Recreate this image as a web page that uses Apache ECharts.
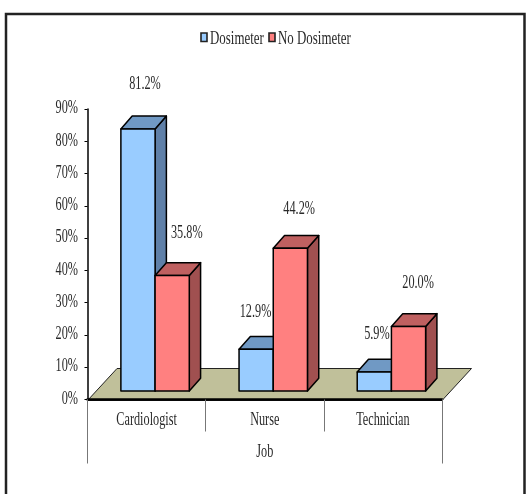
<!DOCTYPE html>
<html><head><meta charset="utf-8">
<style>html,body{margin:0;padding:0;background:#fff}#c{width:526px;height:494px}</style>
<script src="https://cdn.jsdelivr.net/npm/echarts@6/dist/echarts.min.js"></script>
</head><body><div id="c"></div>
<script>
const categories = ['Cardiologist', 'Nurse', 'Technician'];
const seriesNames = ['Dosimeter', 'No Dosimeter'];
const dosimeter = [81.2, 12.9, 5.9];
const noDosimeter = [35.8, 44.2, 20.0];
const valueTicks = [0, 10, 20, 30, 40, 50, 60, 70, 80, 90];
const axisTitle = 'Job';

// layout constants, in pixels
const INK = '#2a2a2a';
const FONT = '18px "Liberation Serif"';
const SQUEEZE = 0.68;
const DEPTH = { x: 11.3, y: -12.8 };
const BASE = { x: 8.5, y: -8.5 };
const BAR_W = 34.2;
const LABEL_NUDGE = [
  [[7, -44.4], [-0.6, -37.4], [2.6, -38]],
  [[14.6, -42.4], [8.8, -39.3], [9.6, -42.9]]
];
const FACE = ['#99CCFF', '#FF8080'];
const TOP = ['#7099C4', '#BF6060'];
const SIDE = ['#5F80A8', '#A05050'];

function squeezedText(text, x, y, align) {
  return { type: 'text', z2: 50, x, y, scaleX: SQUEEZE, silent: true,
    style: { text, fill: INK, font: FONT, align, verticalAlign: 'middle' } };
}

function barSeries(name, values, s) {
  return {
    name, type: 'custom', coordinateSystem: 'cartesian2d', z: 3 + s,
    data: values.map((v, i) => [i, v]),
    encode: { x: 0, y: 1 },
    renderItem(params, api) {
      const i = api.value(0), v = api.value(1);
      const tp = api.coord([i, v]);
      const x0 = tp[0] + BASE.x - BAR_W + s * BAR_W;
      const x1 = x0 + BAR_W;
      const yT = tp[1] + BASE.y;
      const yB = api.coord([i, 0])[1] + BASE.y;
      const d = DEPTH;
      const line = { stroke: '#000', lineWidth: 1.5, lineJoin: 'round' };
      const n = LABEL_NUDGE[s][i];
      return { type: 'group', children: [
        { type: 'polygon', shape: { points: [[x1, yT], [x1 + d.x, yT + d.y], [x1 + d.x, yB + d.y], [x1, yB]] }, style: { fill: SIDE[s], ...line } },
        { type: 'polygon', shape: { points: [[x0, yT], [x0 + d.x, yT + d.y], [x1 + d.x, yT + d.y], [x1, yT]] }, style: { fill: TOP[s], ...line } },
        { type: 'rect', shape: { x: x0, y: yT, width: BAR_W, height: yB - yT }, style: { fill: FACE[s], ...line } },
        squeezedText(v.toFixed(1) + '%', (x0 + x1) / 2 + n[0], yT + n[1], 'center')
      ] };
    }
  };
}

const floorSeries = {
  type: 'custom', coordinateSystem: 'cartesian2d', z: 1, silent: true,
  data: [[0, 0]], encode: { x: 0, y: 1 },
  renderItem(params) {
    const c = params.coordSys;
    const yF = c.y + c.height + 1, xL = c.x, xR = c.x + c.width;
    const dx = 29.5, dy = -32;
    return { type: 'polygon', shape: { points: [[xL, yF], [xL + dx, yF + dy], [xR + dx, yF + dy], [xR, yF]] },
      style: { fill: '#C0C09A', stroke: '#222', lineWidth: 1 } };
  }
};

const valueLabelSeries = {
  type: 'custom', coordinateSystem: 'cartesian2d', z: 6, silent: true,
  data: valueTicks.map(v => [0, v]), encode: { x: 0, y: 1 },
  renderItem(params, api) {
    const c = params.coordSys;
    return squeezedText(api.value(1) + '%', c.x - 9.5, api.coord([0, api.value(1)])[1] - 0.5, 'right');
  }
};

const categoryLabelSeries = {
  type: 'custom', coordinateSystem: 'cartesian2d', z: 6, silent: true,
  data: categories.map((_, i) => [i, 0]), encode: { x: 0, y: 1 },
  renderItem(params, api) {
    const p = api.coord([api.value(0), 0]);
    return squeezedText(categories[api.value(0)], p[0], p[1] + 21, 'center');
  }
};

const titleLabelSeries = {
  type: 'custom', coordinateSystem: 'cartesian2d', z: 6, silent: true,
  data: [[1, 0]], encode: { x: 0, y: 1 },
  renderItem(params, api) {
    const p = api.coord([1, 0]);
    return squeezedText(axisTitle, p[0], p[1] + 52.5, 'center');
  }
};

const legendSwatch = (x, s) => ({ type: 'rect', silent: true, z: 10,
  shape: { x, y: 33, width: 6, height: 8.5 },
  style: { fill: FACE[s], stroke: '#222', lineWidth: 1.6 } });
const legendText = (x, s) => ({ type: 'text', silent: true, z: 10, x, y: 39, scaleX: SQUEEZE,
  style: { text: seriesNames[s], fill: INK, font: '19px "Liberation Serif"', align: 'left', verticalAlign: 'middle' } });

const chart = echarts.init(document.getElementById('c'), null, { renderer: 'canvas' });
chart.setOption({
  animation: false,
  backgroundColor: '#fff',
  graphic: [
    { type: 'polyline', z: 0, silent: true,
      shape: { points: [[6, 494], [6, 14], [524.5, 14], [524.5, 494]] },
      style: { fill: null, stroke: '#222', lineWidth: 2.5 } },
    legendSwatch(201, 0), legendText(210, 0),
    legendSwatch(269, 1), legendText(278, 1)
  ],
  grid: { left: 87.5, width: 354.5, top: 109, height: 290.5 },
  xAxis: [
    { type: 'category', data: categories, position: 'bottom', z: 5,
      axisLine: { show: true, onZero: false, lineStyle: { color: '#000', width: 2.5 } },
      axisTick: { show: true, alignWithLabel: false, length: 32, lineStyle: { color: '#777', width: 1 } },
      axisLabel: { show: false } },
    { type: 'category', data: [axisTitle], position: 'bottom', z: 5,
      axisLine: { show: false },
      axisTick: { show: true, alignWithLabel: false, length: 64, lineStyle: { color: '#777', width: 1 } },
      axisLabel: { show: false } }
  ],
  yAxis: { type: 'value', min: 0, max: valueTicks[valueTicks.length - 1], interval: 10, z: 5,
    splitLine: { show: false },
    axisLine: { show: true, lineStyle: { color: '#000', width: 1.5 } },
    axisTick: { show: true, length: 3, lineStyle: { color: '#000', width: 1 } },
    axisLabel: { show: false } },
  series: [
    floorSeries,
    barSeries(seriesNames[0], dosimeter, 0),
    barSeries(seriesNames[1], noDosimeter, 1),
    valueLabelSeries, categoryLabelSeries, titleLabelSeries
  ]
});
</script></body></html>
